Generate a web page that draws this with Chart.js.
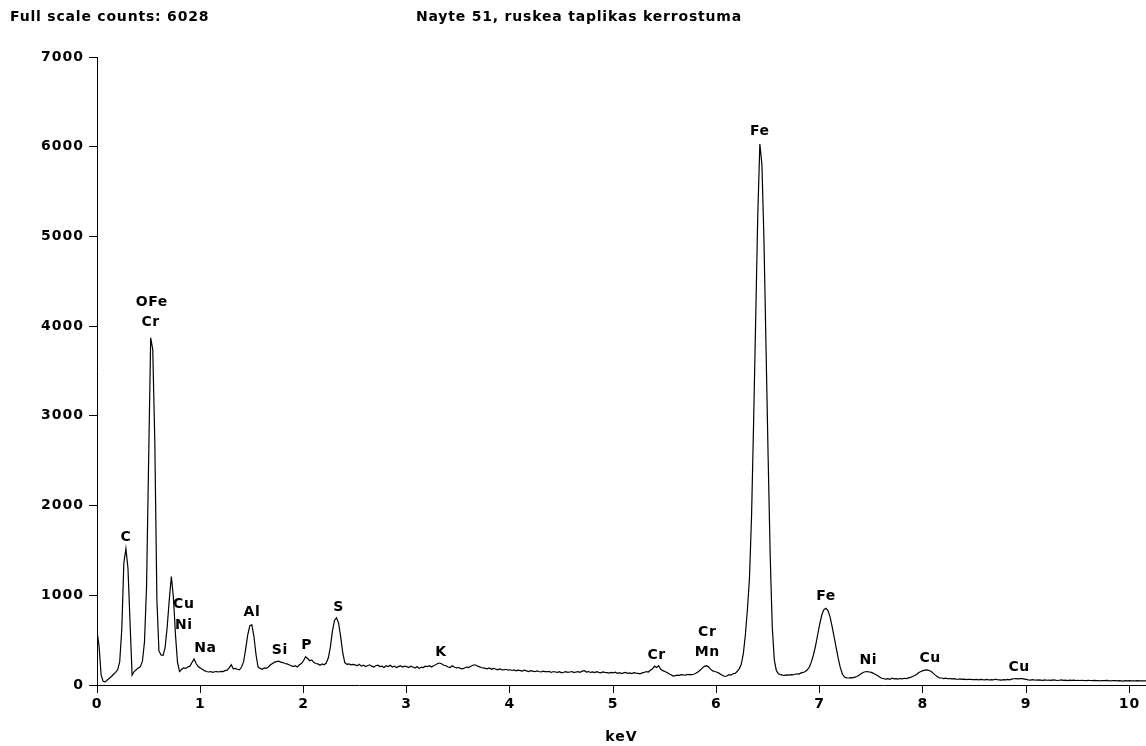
<!DOCTYPE html>
<html>
<head>
<meta charset="utf-8">
<script src="https://cdn.jsdelivr.net/npm/chart.js@4/dist/chart.umd.min.js"></script>
<style>
  html, body { margin: 0; padding: 0; background: #fff; }
</style>
</head>
<body>
<canvas id="spectrumChart" width="1146" height="746"></canvas>
<script>
// EDS spectrum, one value every 0.02 keV starting at 0 keV
const channelWidth = 0.02;
const counts = [
  // 0.00 - 0.48
  600, 430, 110, 40, 35, 55, 75, 95, 120, 140, 170, 260, 620, 1360, 1520, 1300, 700, 110, 150, 170, 190, 205, 265, 480, 1100,
  // 0.50 - 0.98
  2500, 3870, 3740, 2700, 950, 380, 335, 330, 420, 650, 950, 1210, 980, 560, 250, 150, 175, 190, 185, 200, 210, 250, 290, 240, 205,
  // 1.00 - 1.48
  190, 175, 160, 150, 145, 150, 142, 148, 150, 145, 152, 150, 160, 165, 190, 225, 180, 185, 175, 170, 200, 260, 400, 560, 660,
  // 1.50 - 1.98
  670, 540, 340, 200, 185, 175, 190, 185, 200, 225, 240, 255, 260, 265, 255, 250, 240, 235, 225, 215, 205, 215, 200, 225, 240,
  // 2.00 - 2.48
  270, 315, 295, 270, 280, 250, 240, 235, 220, 235, 225, 245, 300, 420, 600, 720, 750, 690, 540, 360, 250, 230, 235, 225, 230,
  // 2.50 - 2.98
  225, 215, 230, 210, 220, 205, 215, 225, 210, 200, 215, 220, 205, 210, 195, 215, 205, 220, 200, 210, 195, 205, 215, 200, 210,
  // 3.00 - 3.48
  205, 195, 210, 200, 190, 205, 185, 200, 195, 210, 205, 215, 200, 215, 225, 240, 245, 235, 220, 215, 200, 195, 215, 200, 190,
  // 3.50 - 3.98
  195, 185, 180, 190, 200, 195, 210, 220, 225, 215, 205, 195, 190, 185, 180, 190, 175, 185, 178, 170, 180, 172, 168, 175, 165,
  // 4.00 - 4.48
  170, 162, 168, 158, 165, 160, 155, 165, 158, 150, 160, 155, 148, 158, 150, 145, 155, 150, 148, 152, 140, 150, 145, 140, 148,
  // 4.50 - 4.98
  135, 142, 148, 140, 145, 150, 138, 145, 148, 142, 155, 160, 145, 150, 140, 145, 138, 148, 140, 135, 145, 140, 138, 132, 140,
  // 5.00 - 5.48
  135, 142, 130, 138, 128, 135, 140, 130, 135, 128, 138, 132, 130, 125, 135, 140, 150, 145, 165, 180, 210, 195, 215, 175, 160,
  // 5.50 - 5.98
  150, 140, 125, 115, 100, 105, 110, 108, 115, 112, 110, 118, 115, 115, 120, 130, 145, 165, 185, 205, 215, 205, 180, 160, 150,
  // 6.00 - 6.48
  145, 135, 120, 105, 95, 100, 115, 110, 125, 130, 150, 180, 230, 350, 560, 850, 1200, 1900, 2950, 4100, 5250, 6030, 5800, 4950, 3750,
  // 6.50 - 6.98
  2550, 1450, 650, 280, 160, 125, 115, 110, 108, 112, 110, 115, 112, 120, 125, 122, 135, 140, 150, 170, 200, 260, 340, 440, 560,
  // 7.00 - 7.48
  680, 780, 840, 855, 830, 760, 650, 530, 410, 290, 190, 120, 88, 80, 78, 82, 80, 88, 95, 110, 125, 140, 148, 150, 145,
  // 7.50 - 7.98
  140, 130, 118, 105, 90, 75, 70, 65, 70, 62, 75, 68, 70, 66, 72, 68, 75, 72, 80, 85, 95, 105, 120, 140, 150,
  // 8.00 - 8.48
  160, 165, 168, 162, 150, 130, 110, 92, 80, 78, 72, 76, 70, 72, 68, 70, 66, 64, 68, 62, 66, 60, 64, 62, 60,
  // 8.50 - 8.98
  60, 62, 58, 63, 60, 58, 62, 56, 60, 58, 64, 60, 58, 55, 60, 57, 62, 58, 65, 70, 72, 68, 72, 70, 66,
  // 9.00 - 9.48
  62, 58, 55, 60, 56, 54, 58, 55, 52, 56, 53, 55, 52, 58, 54, 50, 53, 56, 52, 55, 50, 54, 52, 55, 50,
  // 9.50 - 9.98
  52, 50, 53, 50, 48, 52, 50, 49, 52, 48, 50, 47, 50, 48, 52, 49, 47, 50, 48, 46, 49, 47, 44, 48, 46,
  // 10.00 - 10.16
  48, 46, 47, 45, 48, 46, 45, 47, 46
];

// element labels written above the peaks (text, keV, counts)
const peakNames  = ['OFe', 'Cr', 'C', 'Cu', 'Ni', 'Na', 'Al', 'Si', 'P', 'S', 'K', 'Cr', 'Cr', 'Mn', 'Fe', 'Fe', 'Ni', 'Cu', 'Cu'];
const peakKev    = [0.53, 0.52, 0.28, 0.84, 0.84, 1.05, 1.50, 1.77, 2.03, 2.34, 3.33, 5.42, 5.91, 5.91, 6.42, 7.06, 7.47, 8.07, 8.93];
const peakCounts = [4270, 4045, 1650, 903, 669, 413, 815, 390, 446, 870, 368, 335, 591, 368, 6175, 992, 279, 301, 201];

const headerLeft = 'Full scale counts: 6028';
const headerTitle = 'Nayte 51, ruskea taplikas kerrostuma';

const energy = counts.map((_, i) => +(i * channelWidth).toFixed(2));
const FAMILY = '"DejaVu Sans", "Liberation Sans", Arial, sans-serif';
const tickFont = { family: FAMILY, size: 14, weight: 'bold' };

const labelPlugin = {
    id: 'peakLabels',
    beforeDraw(chart) {
        chart.ctx.letterSpacing = '1px';
    },
    afterDraw(chart) {
        const ctx = chart.ctx;
        const xs = chart.scales.x, ys = chart.scales.y;
        ctx.save();
        ctx.fillStyle = '#000';
        ctx.font = 'bold 14px ' + FAMILY;
        ctx.textBaseline = 'middle';
        ctx.letterSpacing = '0.8px';
        ctx.textAlign = 'left';
        ctx.fillText(headerLeft, 10, 17);
        ctx.textAlign = 'center';
        ctx.fillText(headerTitle, 579, 17);
        ctx.letterSpacing = '0.5px';
        peakNames.forEach((name, i) => {
            ctx.fillText(name, xs.getPixelForValue(peakKev[i]), ys.getPixelForValue(peakCounts[i]));
        });
        ctx.restore();
        ctx.letterSpacing = '0px';
    }
};

new Chart(document.getElementById('spectrumChart'), {
    type: 'line',
    data: {
        datasets: [{
            data: counts.map((c, i) => ({ x: energy[i], y: c })),
            borderColor: '#000',
            borderWidth: 1.2,
            pointRadius: 0,
            tension: 0,
            fill: false
        }]
    },
    options: {
        responsive: false,
        animation: false,
        layout: { padding: { top: 57, left: 0, right: 0, bottom: 0 } },
        plugins: { legend: { display: false }, tooltip: { enabled: false } },
        scales: {
            x: {
                type: 'linear',
                min: 0,
                max: 10.16,
                afterFit(scale) { scale.height = 61; },
                ticks: { stepSize: 1, includeBounds: false, maxRotation: 0, color: '#000', font: tickFont, padding: 3 },
                grid: { drawOnChartArea: false, tickLength: 8, color: '#000' },
                border: { color: '#000', width: 1 },
                title: { display: true, text: 'keV', color: '#000', font: tickFont, padding: { top: 2, bottom: 0 } }
            },
            y: {
                min: 0,
                max: 7000,
                afterFit(scale) { scale.width = 97; },
                ticks: { stepSize: 1000, color: '#000', font: tickFont, padding: 5, callback: v => String(v) },
                grid: { drawOnChartArea: false, tickLength: 8, color: '#000' },
                border: { color: '#000', width: 1 }
            }
        }
    },
    plugins: [labelPlugin]
});
</script>
</body>
</html>
